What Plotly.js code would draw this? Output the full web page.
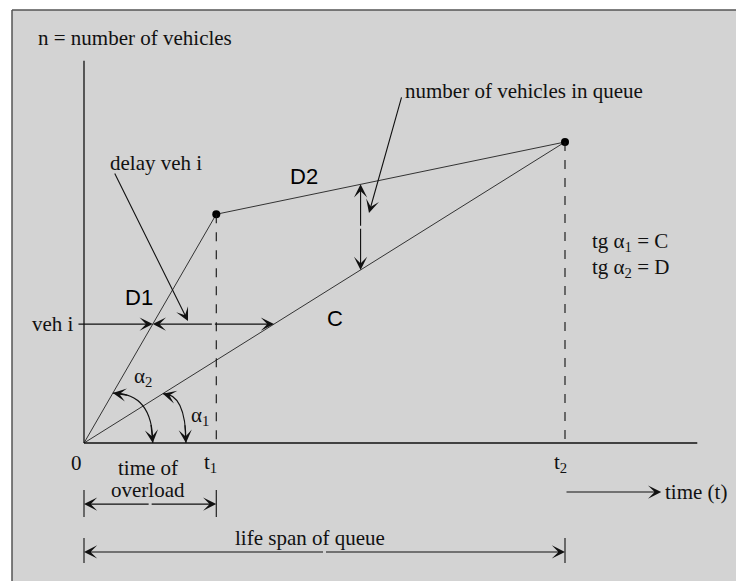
<!DOCTYPE html>
<html><head><meta charset="utf-8">
<script src="https://cdn.plot.ly/plotly-3.0.1.min.js"></script>
<style>html,body{margin:0;padding:0;background:#d3d3d3;overflow:hidden}</style>
</head><body><div id="chart" style="width:736px;height:581px"></div>
<script>
// ---- data ----
const keyTimes = [0, 2.75, 10];            // 0, t1, t2
const arrivalCounts = [0, 7.6, 10];        // cumulative arrivals: D1 then D2
const capacityTimes = [0, 10];
const capacityCounts = [0, 10];            // departures at capacity C
const timeTickLabels = ['0', 't<sub>1</sub>', 't<sub>2</sub>'];
const axisEnds = [12.75, 12.7];            // time axis end, n axis end
const vehILevel = [3.95];                  // vehicle i count level
const queueTime = [5.75];                  // where queue length is shown
const alphaArcStart = [1.64, 0.6];         // alpha1 on C line, alpha2 on D1 line (time)
const alphaArcEnd = [2.12, 1.43];          // where arcs meet the time axis
const slopeLabels = ['tg α<sub>1</sub> = C', 'tg α<sub>2</sub> = D'];
const segmentLabels = ['D1', 'D2', 'C'];

// ---- derived ----
const t1 = keyTimes[1], t2 = keyTimes[2], n1 = arrivalCounts[1], n2 = arrivalCounts[2];
const cap = capacityCounts[1] / capacityTimes[1];
const d1 = n1 / t1, d2 = (n2 - n1) / (t2 - t1);
const arrivalsAt = t => t <= t1 ? t * d1 : n1 + (t - t1) * d2;
const vehI = vehILevel[0];
const xD1 = vehI / d1, xC = vehI / cap;
const q = queueTime[0], qTop = arrivalsAt(q), qBot = cap * q;

const serif = 'Liberation Serif, Times New Roman, serif';
const sans = 'Liberation Sans, Arial, sans-serif';
const ink = '#111';

function arrow(tx, ty, ax, ay) {
  return {x: tx, y: ty, ax: ax, ay: ay, xref: 'x', yref: 'y', axref: 'x', ayref: 'y',
    text: '', showarrow: true, arrowhead: 3, arrowsize: 2.0, arrowwidth: 1.1,
    arrowcolor: ink, standoff: 0, startstandoff: 0};
}
function label(x, y, txt, opt) {
  return Object.assign({x: x, y: y, xref: 'x', yref: 'y', text: txt, showarrow: false,
    font: {family: serif, size: 21, color: ink}, xanchor: 'center', yanchor: 'middle'}, opt || {});
}
function seg(x0, y0, x1, y1, extra) {
  return Object.assign({type: 'line', xref: 'x', yref: 'y', x0: x0, y0: y0, x1: x1, y1: y1,
    line: {color: ink, width: 1.1}}, extra || {});
}
function bez(p0, c, p2, t) {
  const u = 1 - t;
  return [u*u*p0[0] + 2*u*t*c[0] + t*t*p2[0], u*u*p0[1] + 2*u*t*c[1] + t*t*p2[1]];
}

const traces = [
  {x: keyTimes, y: arrivalCounts, mode: 'lines', line: {color: '#333', width: 1}, hoverinfo: 'skip'},
  {x: capacityTimes, y: capacityCounts, mode: 'lines', line: {color: '#333', width: 1}, hoverinfo: 'skip'},
  {x: keyTimes.slice(1), y: arrivalCounts.slice(1), mode: 'markers',
   marker: {color: '#000', size: 8}, hoverinfo: 'skip'}
];

const fx = 12 / 736, fy = 1 - 10 / 581;
const shapes = [
  // white strip above and left of the framed panel
  {type: 'rect', xref: 'paper', yref: 'paper', x0: 0, x1: 1, y0: fy, y1: 1,
   fillcolor: '#ffffff', line: {width: 0, color: 'rgba(0,0,0,0)'}, layer: 'below'},
  {type: 'rect', xref: 'paper', yref: 'paper', x0: 0, x1: fx, y0: 0, y1: 1,
   fillcolor: '#ffffff', line: {width: 0, color: 'rgba(0,0,0,0)'}, layer: 'below'},
  {type: 'line', xref: 'paper', yref: 'paper', x0: fx, x1: 1, y0: fy, y1: fy,
   line: {color: '#555', width: 1.5}, layer: 'below'},
  {type: 'line', xref: 'paper', yref: 'paper', x0: fx, x1: fx, y0: 0, y1: fy,
   line: {color: '#555', width: 1.5}, layer: 'below'},
  seg(0, 0, axisEnds[0], 0, {line: {color: ink, width: 1.3}}),
  seg(0, 0, 0, axisEnds[1], {line: {color: ink, width: 1.3}}),
  seg(t1, n1, t1, 0, {line: {color: ink, width: 1.1, dash: 'dash'}}),
  seg(t2, n2, t2, 0, {line: {color: ink, width: 1.1, dash: 'dash'}}),
  // dimension end bars
  seg(0, -1.56, 0, -2.46), seg(t1, -1.56, t1, -2.46),
  seg(0, -3.16, 0, -3.99), seg(t2, -3.16, t2, -3.99)
];

const annotations = [];
// veh i line
annotations.push(arrow(xD1, vehI, -0.146, vehI));
const midV = (xD1 + xC) / 2;
annotations.push(arrow(xD1, vehI, midV, vehI));
annotations.push(arrow(xC, vehI, midV, vehI));
// queue length double arrow
const midQ = (qTop + qBot) / 2;
annotations.push(arrow(q, qTop, q, midQ));
annotations.push(arrow(q, qBot, q, midQ));
// pointers
annotations.push(arrow(2.162, 4.05, 0.624, 9.0));
annotations.push(arrow(5.925, 7.64, 6.61, 11.53));
// alpha arcs
const slopes = [cap, d1];
for (let i = 0; i < 2; i++) {
  const p0 = [alphaArcStart[i], alphaArcStart[i] * slopes[i]];
  const p2 = [alphaArcEnd[i], 0];
  const c = [p2[0], p0[1]];
  shapes.push({type: 'path', xref: 'x', yref: 'y',
    path: `M${p0[0]},${p0[1]} Q${c[0]},${c[1]} ${p2[0]},${p2[1]}`,
    line: {color: ink, width: 1.1}});
  const a = bez(p0, c, p2, 0.22), b = bez(p0, c, p2, 0.78);
  annotations.push(arrow(p0[0], p0[1], a[0], a[1]));
  annotations.push(arrow(p2[0], p2[1], b[0], b[1]));
}
// dimension arrows
annotations.push(arrow(0, -2.03, t1 / 2, -2.03));
annotations.push(arrow(t1, -2.03, t1 / 2, -2.03));
annotations.push(arrow(0, -3.62, t2 / 2, -3.62));
annotations.push(arrow(t2, -3.62, t2 / 2, -3.62));
// time arrow
annotations.push(arrow(12.0, -1.63, t2, -1.63));

// text labels
annotations.push(label(-1.0, 13.45, 'n = number of vehicles', {xanchor: 'left'}));
annotations.push(label(0.5, 9.30, 'delay veh i', {xanchor: 'left'}));
annotations.push(label(6.63, 11.69, 'number of vehicles in queue', {xanchor: 'left'}));
annotations.push(label(10.52, 6.68, slopeLabels[0], {xanchor: 'left'}));
annotations.push(label(10.52, 5.81, slopeLabels[1], {xanchor: 'left'}));
annotations.push(label(-0.17, vehI, 'veh i', {xanchor: 'right'}));
annotations.push(label(1.14, 4.82, segmentLabels[0], {font: {family: sans, size: 22, color: '#000'}}));
annotations.push(label(4.57, 8.84, segmentLabels[1], {font: {family: sans, size: 22, color: '#000'}}));
annotations.push(label(5.22, 4.15, segmentLabels[2], {font: {family: sans, size: 22, color: '#000'}}));
annotations.push(label(1.23, 2.19, 'α<sub>2</sub>'));
annotations.push(label(2.41, 0.90, 'α<sub>1</sub>'));
const tickX = [-0.15, t1 - 0.13, t2 - 0.10];
for (let i = 0; i < 3; i++) annotations.push(label(tickX[i], -0.66, timeTickLabels[i]));
annotations.push(label(1.33, -0.83, 'time of'));
annotations.push(label(1.33, -1.56, 'overload'));
annotations.push(label(4.70, -3.16, 'life span of queue'));
annotations.push(label(12.04, -1.63, 'time (t)', {xanchor: 'left'}));

const layout = {
  width: 736, height: 581, margin: {l: 0, r: 0, t: 0, b: 0},
  paper_bgcolor: '#d3d3d3', plot_bgcolor: 'rgba(0,0,0,0)', showlegend: false,
  xaxis: {range: [-84/48.1, 652/48.1], visible: false, fixedrange: true},
  yaxis: {range: [-138/30.1, 443/30.1], visible: false, fixedrange: true},
  shapes: shapes, annotations: annotations
};
Plotly.newPlot('chart', traces, layout, {staticPlot: true, displayModeBar: false});
</script></body></html>
